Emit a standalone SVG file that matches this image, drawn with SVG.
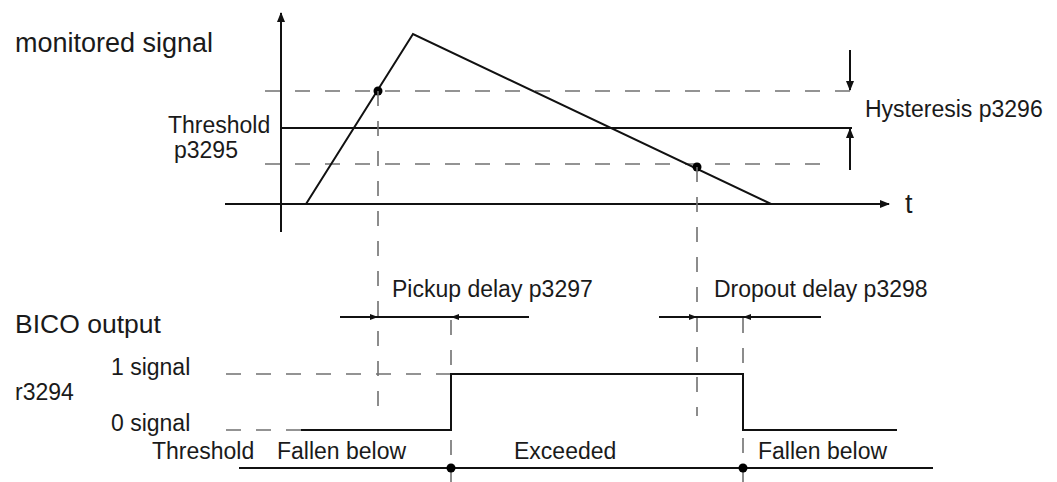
<svg xmlns="http://www.w3.org/2000/svg" width="1057" height="482" viewBox="0 0 1057 482">
<style>
  text { font-family: "Liberation Sans", Arial, sans-serif; font-size: 23px; fill: #1a1a1a; }
  .big { font-size: 27px; }
  .solid { stroke: #111; stroke-width: 2; fill: none; }
  .dash { stroke: #707070; stroke-width: 1.6; stroke-dasharray: 15 15; fill: none; }
  .dot { fill: #000; }
</style>
<defs>
  <marker id="ah" viewBox="0 0 10 8" refX="9" refY="4" markerWidth="10" markerHeight="8" markerUnits="userSpaceOnUse" orient="auto">
    <path d="M0,0 L10,4 L0,8 z" fill="#111"/>
  </marker>
  <marker id="ahs" viewBox="0 0 8 6" refX="8" refY="3" markerWidth="8" markerHeight="6" markerUnits="userSpaceOnUse" orient="auto">
    <path d="M0,0 L8,3 L0,6 z" fill="#111"/>
  </marker>
</defs>

<g id="axes">
  <path class="solid" d="M281,232 V13" marker-end="url(#ah)"/>
  <path class="solid" d="M225,204 H889" marker-end="url(#ah)"/>
  <text id="t-label" class="big" x="905" y="213">t</text>
</g>

<g id="threshold-levels">
  <path class="dash" d="M265,91 H856"/>
  <path class="dash" d="M265,164 H826"/>
  <path class="solid" d="M281,128 H852"/>
  <path class="solid" d="M850,50 V90" marker-end="url(#ah)"/>
  <path class="solid" d="M850,170 V129" marker-end="url(#ah)"/>
</g>

<g id="monitored-signal">
  <path class="solid" d="M306,204 L413,34 L771,204"/>
  <circle class="dot" cx="378" cy="91" r="4.5"/>
  <circle class="dot" cx="697" cy="167" r="4.5"/>
</g>

<g id="connectors">
  <path class="dash" d="M378,91 V410"/>
  <path class="dash" d="M697,167 V416"/>
  <path class="dash" d="M451,320 V482"/>
  <path class="dash" d="M743,318 V482"/>
</g>

<g id="pickup-delay">
  <path class="solid" d="M340,317 H529"/>
  <path class="solid" d="M360,317 H378" marker-end="url(#ahs)"/>
  <path class="solid" d="M470,317 H451" marker-end="url(#ahs)"/>
  <text x="392" y="297">Pickup delay p3297</text>
</g>

<g id="dropout-delay">
  <path class="solid" d="M659,317 H821"/>
  <path class="solid" d="M680,317 H697" marker-end="url(#ahs)"/>
  <path class="solid" d="M760,317 H743" marker-end="url(#ahs)"/>
  <text x="714" y="297">Dropout delay p3298</text>
</g>

<g id="bico-output">
  <path class="dash" d="M226,374 H451"/>
  <path class="dash" d="M226,430 H301"/>
  <path class="solid" d="M301,430 H451 V374 H743 V430 H897"/>
</g>

<g id="threshold-state">
  <path class="solid" d="M239,468 H933"/>
  <circle class="dot" cx="451" cy="468" r="4.5"/>
  <circle class="dot" cx="743" cy="468" r="4.5"/>
</g>

<g id="labels">
  <text class="big" x="15" y="52">monitored signal</text>
  <text x="168" y="133">Threshold</text>
  <text x="174" y="158">p3295</text>
  <text x="865" y="117">Hysteresis p3296</text>
  <text style="font-size:26.5px" x="15" y="333">BICO output</text>
  <text x="111" y="375">1 signal</text>
  <text x="15" y="400">r3294</text>
  <text x="111" y="431">0 signal</text>
  <text x="152" y="459">Threshold</text>
  <text x="277" y="459">Fallen below</text>
  <text x="514" y="459">Exceeded</text>
  <text x="758" y="459">Fallen below</text>
</g>
</svg>
